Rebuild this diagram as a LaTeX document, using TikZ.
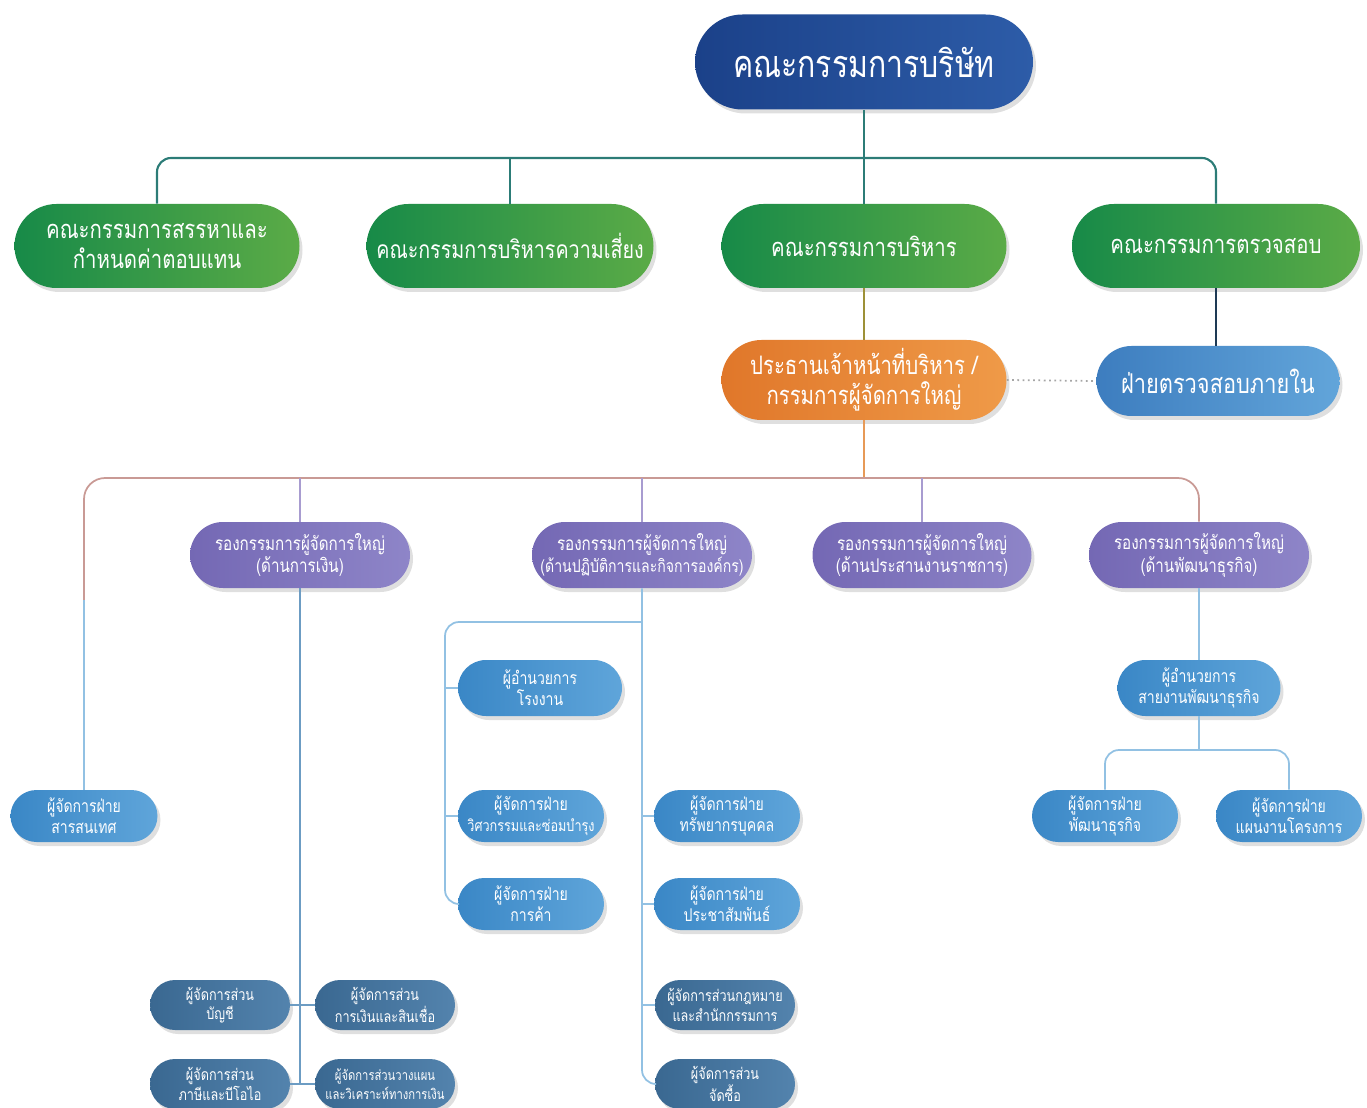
\documentclass[tikz,border=0pt]{standalone}
\usepackage{fontspec}
\newfontfamily\thai[Script=Thai,FakeStretch=0.8]{Loma}
\usetikzlibrary{shapes.misc,shadows}
\definecolor{boardL}{HTML}{1B4189}
\definecolor{boardR}{HTML}{2D5CA8}
\definecolor{greenL}{HTML}{178A48}
\definecolor{greenR}{HTML}{5BAB47}
\definecolor{orangeL}{HTML}{E0772A}
\definecolor{orangeR}{HTML}{EF9A48}
\definecolor{auditL}{HTML}{3D7DBF}
\definecolor{auditR}{HTML}{62A5DA}
\definecolor{purpL}{HTML}{7468B4}
\definecolor{purpR}{HTML}{8E85C8}
\definecolor{midL}{HTML}{3A87C6}
\definecolor{midR}{HTML}{5FA5DA}
\definecolor{slateL}{HTML}{3A6891}
\definecolor{slateR}{HTML}{5383AD}
\definecolor{tealline}{HTML}{2C7C77}
\definecolor{roseline}{HTML}{C99A95}
\definecolor{blueline}{HTML}{92C1E3}
\definecolor{purpline}{HTML}{A89CD0}
\definecolor{navyline}{HTML}{1E3A55}
\tikzset{
  pill/.style 2 args={rounded rectangle, inner sep=0pt, align=center, text=white,
    minimum width=#1*0.02cm, minimum height=#2*0.02cm,
    drop shadow={shadow xshift=0.6mm, shadow yshift=-0.8mm, opacity=0.25}},
  boardbox/.style={left color=boardL, right color=boardR,
    font=\thai\fontsize{21.5}{26}\selectfont},
  greenbox/.style={left color=greenL, right color=greenR, font=\thai\fontsize{14.5}{17}\selectfont},
  ceobox/.style={left color=orangeL, right color=orangeR, font=\thai\fontsize{14.5}{17}\selectfont},
  auditbox/.style={left color=auditL, right color=auditR, font=\thai\fontsize{15.5}{18}\selectfont},
  purpbox/.style={left color=purpL, right color=purpR, font=\thai\fontsize{10.8}{12.8}\selectfont},
  midbox/.style={left color=midL, right color=midR, font=\thai\fontsize{10}{12}\selectfont},
  slatebox/.style={left color=slateL, right color=slateR, font=\thai\fontsize{9}{11}\selectfont},
  small/.style={font=\thai\fontsize{8}{11}\selectfont},
  topline/.style={draw=tealline, line width=1.2pt, rounded corners=8pt},
  lowline/.style={draw=blueline, line width=1pt, rounded corners=8pt},
}
\begin{document}
\begin{tikzpicture}[x=0.02cm, y=-0.02cm]
\useasboundingbox (0,0) rectangle (1367,1108);
% nodes
\node[pill={338}{95}, boardbox] (board) at (864,62) {คณะกรรมการบริษัท};
\node[pill={285}{84}, greenbox] (g1) at (157,246) {คณะกรรมการสรรหาและ\\กำหนดค่าตอบแทน};
\node[pill={287}{84}, greenbox, font=\thai\fontsize{14}{17}\selectfont] (g2) at (510,246) {คณะกรรมการบริหารความเสี่ยง};
\node[pill={285}{84}, greenbox] (g3) at (864,246) {คณะกรรมการบริหาร};
\node[pill={288}{84}, greenbox] (g4) at (1216,246) {คณะกรรมการตรวจสอบ};
\node[pill={285}{80}, ceobox] (ceo) at (864,380) {ประธานเจ้าหน้าที่บริหาร /\\กรรมการผู้จัดการใหญ่};
\node[pill={243}{70}, auditbox] (audit) at (1218,381) {ฝ่ายตรวจสอบภายใน};
\node[pill={220}{66}, purpbox] (p1) at (300,555) {รองกรรมการผู้จัดการใหญ่\\(ด้านการเงิน)};
\node[pill={220}{66}, purpbox] (p2) at (642,555) {รองกรรมการผู้จัดการใหญ่\\{\fontsize{10}{12.8}\selectfont(ด้านปฏิบัติการและกิจการองค์กร)}};
\node[pill={219}{66}, purpbox] (p3) at (922,555) {รองกรรมการผู้จัดการใหญ่\\(ด้านประสานงานราชการ)};
\node[pill={220}{66}, purpbox] (p4) at (1199,555) {รองกรรมการผู้จัดการใหญ่\\(ด้านพัฒนาธุรกิจ)};
\node[pill={147}{52}, midbox] (info) at (84,816) {ผู้จัดการฝ่าย\\สารสนเทศ};
\node[pill={164}{56}, midbox] (plant) at (540,688) {ผู้อำนวยการ\\โรงงาน};
\node[pill={146}{52}, midbox] (eng) at (531,816) {ผู้จัดการฝ่าย\\{\fontsize{9}{12}\selectfont วิศวกรรมและซ่อมบำรุง}};
\node[pill={146}{52}, midbox] (trade) at (531,904) {ผู้จัดการฝ่าย\\การค้า};
\node[pill={146}{52}, midbox] (hr) at (727,816) {ผู้จัดการฝ่าย\\ทรัพยากรบุคคล};
\node[pill={146}{52}, midbox] (pr) at (727,904) {ผู้จัดการฝ่าย\\ประชาสัมพันธ์};
\node[pill={140}{50}, slatebox] (legal) at (725,1005) {ผู้จัดการส่วนกฎหมาย\\และสำนักกรรมการ};
\node[pill={140}{50}, slatebox] (purch) at (725,1084) {ผู้จัดการส่วน\\จัดซื้อ};
\node[pill={163}{56}, midbox] (bdd) at (1199,688) {ผู้อำนวยการ\\สายงานพัฒนาธุรกิจ};
\node[pill={146}{52}, midbox] (bd) at (1105,816) {ผู้จัดการฝ่าย\\พัฒนาธุรกิจ};
\node[pill={146}{52}, midbox] (plan) at (1289,816) {ผู้จัดการฝ่าย\\แผนงานโครงการ};
\node[pill={140}{50}, slatebox] (acc) at (220,1005) {ผู้จัดการส่วน\\บัญชี};
\node[pill={140}{50}, slatebox] (credit) at (385,1005) {ผู้จัดการส่วน\\การเงินและสินเชื่อ};
\node[pill={140}{50}, slatebox] (tax) at (220,1084) {ผู้จัดการส่วน\\ภาษีและบีโอไอ};
\node[pill={140}{50}, slatebox, small] (fplan) at (385,1084) {ผู้จัดการส่วนวางแผน\\และวิเคราะห์ทางการเงิน};
% coordinates
\coordinate (bus1) at (864,158);
\coordinate (bus2) at (864,478);
\coordinate (infobend) at (84,600);
\coordinate (br) at (642,622);
\coordinate (lb) at (445,622);
\coordinate (bus3) at (1199,750);
% connectors
\draw[topline] (g1.north) |- (bus1) -| (g4.north);
\draw[topline] (g2.north) -- (g2.north |- bus1);
\draw[topline] (board.south) -- (g3.north);
\draw[draw=navyline, line width=1.4pt] (g4.south) -- (audit.north -| g4.south);
\draw[draw=greenR!50!orangeL, line width=1.2pt] (g3.south) -- (ceo.north);
\draw[draw=gray!70, line width=1pt, dotted] (ceo.east) -- (audit.west);
\draw[draw=orangeR!80!roseline, line width=1pt] (ceo.south) -- (bus2);
\draw[draw=roseline, line width=1pt, rounded corners=12pt] (infobend) |- (bus2) -| (p4.north);
\draw[draw=blueline, line width=1pt] (infobend) -- (info.north);
\draw[draw=purpline, line width=1pt] (p1.north) -- (p1.north |- bus2);
\draw[draw=purpline, line width=1pt] (p2.north) -- (p2.north |- bus2);
\draw[draw=purpline, line width=1pt] (p3.north) -- (p3.north |- bus2);
% finance
\draw[lowline, draw=slateR!60!blueline] (p1.south) -- (p1.south |- tax.east);
\draw[lowline, draw=slateR!60!blueline] (acc.east) -- (credit.west);
\draw[lowline, draw=slateR!60!blueline] (tax.east) -- (fplan.west);
% operations
\draw[lowline] (p2.south) |- (purch.west);
\draw[lowline] (br) -| (lb |- trade.west) -- (trade.west);
\draw[lowline] (lb |- plant.west) -- (plant.west);
\draw[lowline] (lb |- eng.west) -- (eng.west);
\draw[lowline] (p2.south |- hr.west) -- (hr.west);
\draw[lowline] (p2.south |- pr.west) -- (pr.west);
\draw[lowline] (p2.south |- legal.west) -- (legal.west);
% business dev
\draw[lowline] (p4.south) -- (bdd.north);
\draw[lowline] (bdd.south) -- (bus3);
\draw[lowline] (bd.north) |- (bus3) -| (plan.north);
\end{tikzpicture}
\end{document}
